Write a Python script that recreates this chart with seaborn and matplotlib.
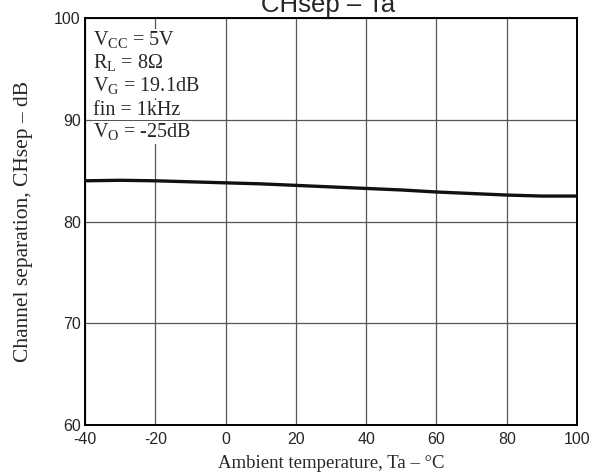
import matplotlib
matplotlib.use("Agg")
import matplotlib.pyplot as plt
import pandas as pd
import seaborn as sns

# values
ta = [-40, -30, -20, -10, 0, 10, 20, 30, 40, 50, 60, 70, 80, 90, 100]
chsep = [84.0, 84.05, 84.0, 83.9, 83.8, 83.7, 83.55, 83.4, 83.25, 83.1, 82.9, 82.75, 82.6, 82.5, 82.5]
conditions = [r"V$_{\mathregular{CC}}$ = 5V", r"R$_{\mathregular{L}}$ = 8Ω",
              r"V$_{\mathregular{G}}$ = 19.1dB", "fin = 1kHz", r"V$_{\mathregular{O}}$ = -25dB"]
x_ticks = [-40, -20, 0, 20, 40, 60, 80, 100]
y_ticks = [60, 70, 80, 90, 100]

df = pd.DataFrame({"Ta": ta, "CHsep": chsep})

sns.set_style("white")
plt.rcParams["font.family"] = ["Liberation Sans", "DejaVu Sans"]
plt.rcParams["axes.unicode_minus"] = False
plt.rcParams["mathtext.fontset"] = "custom"
plt.rcParams["mathtext.rm"] = "Liberation Serif"
serif = ["Liberation Serif", "DejaVu Serif"]

fig, ax = plt.subplots(figsize=(6.06, 4.72), dpi=100)
fig.subplots_adjust(left=85/606, right=577/606, top=1-18/472, bottom=1-425/472)

sns.lineplot(data=df, x="Ta", y="CHsep", color="#111111", linewidth=2.4, ax=ax, zorder=3)

ax.set_xlim(-40, 100)
ax.set_ylim(60, 100)
ax.set_xticks(x_ticks)
ax.set_yticks(y_ticks)
ax.tick_params(length=0, labelsize=11.5)
ax.tick_params(axis="x", pad=5)
ax.tick_params(axis="y", pad=3)
ax.grid(True, color="#555555", linewidth=0.9)
for s in ax.spines.values():
    s.set_color("black")
    s.set_linewidth(1.4)

ax.set_xlabel("Ambient temperature, Ta – °C", family=serif, fontsize=13.5, labelpad=5.5)
ax.set_ylabel("Channel separation, CHsep – dB", family=serif, fontsize=15.5, labelpad=15)

for i, t in enumerate(conditions):
    ax.text(0.016, 0.932 - i * 0.0565, t, transform=ax.transAxes, family=serif, fontsize=14.5,
            va="baseline", ha="left", zorder=4,
            bbox=dict(facecolor="white", edgecolor="none", pad=0.5))

fig.text(0.541, 1 - 12/472, "CHsep – Ta", ha="center", va="baseline", fontsize=18.5)

fig.savefig("out.png", dpi=100)
